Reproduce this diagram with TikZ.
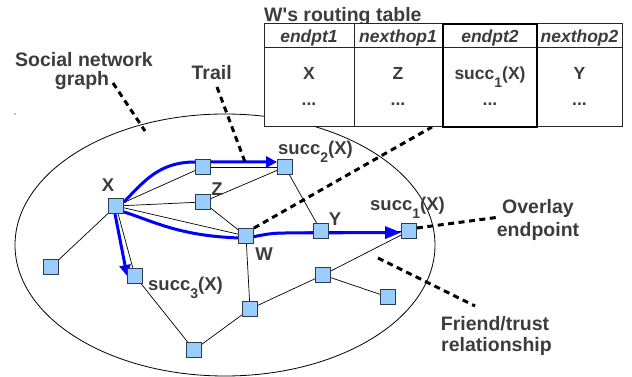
\documentclass[tikz,border=0pt]{standalone}
\usepackage{fontspec}
\setmainfont{Liberation Sans}
\usetikzlibrary{arrows.meta}
\pgfdeclarelayer{bg}
\pgfsetlayers{bg,main}
\definecolor{txt}{HTML}{3C3C3C}
\definecolor{nodefill}{HTML}{99CCFF}
\definecolor{nodeedge}{HTML}{2E3B4A}
\newcommand{\subidx}[1]{\raisebox{-8pt}{\fontsize{14}{14}\selectfont #1}}
\begin{document}
\begin{tikzpicture}[x=1pt,y=-1pt,
  vtx/.style={draw=nodeedge, fill=nodefill, minimum size=15pt, inner sep=0pt, line width=0.8pt},
  edge/.style={line width=0.7pt, black},
  trailpath/.style={line width=3pt, blue, -{Triangle[length=11pt,width=11pt]}},
  lbl/.style={text=txt, font=\fontsize{19.5}{19.5}\selectfont\bfseries, inner sep=0pt, anchor=base},
  vlbl/.style={text=txt, font=\fontsize{18.5}{18.5}\selectfont\bfseries, inner sep=0pt, anchor=base},
  hdr/.style={text=txt, font=\fontsize{17.5}{17.5}\selectfont\bfseries\itshape, inner sep=0pt, anchor=base},
  cell/.style={text=txt, font=\fontsize{17.5}{17.5}\selectfont\bfseries, inner sep=0pt, anchor=base},
  leader/.style={line width=3pt, dash pattern=on 6pt off 4.5pt, black},
  tblline/.style={draw=black!85, line width=1pt}
]
\useasboundingbox (0,0) rectangle (632,377);

% vertices
\node[vtx] (X) at (116,206) {};
\node[vtx] (A) at (203,167) {};
\node[vtx] (S2) at (285,167) {};
\node[vtx] (Z) at (203,202) {};
\node[vtx] (W) at (246,236) {};
\node[vtx] (Y) at (321,231) {};
\node[vtx] (S1) at (409,231) {};
\node[vtx] (L) at (51,267) {};
\node[vtx] (S3) at (135,276) {};
\node[vtx] (B) at (194,350) {};
\node[vtx] (M) at (250,309) {};
\node[vtx] (R) at (323,275) {};
\node[vtx] (F) at (388,297) {};

\begin{pgfonlayer}{bg}
  \draw[line width=0.8pt] (225,245) ellipse [x radius=210, y radius=131];
  \fill (15,114) circle [radius=0.6];
  % friend edges
  \draw[edge] (X) -- (A);
  \draw[edge] (X) -- (Z);
  \draw[edge] (X) -- (W);
  \draw[edge] (X) -- (L);
  \draw[edge] (X) -- (S3);
  \draw[edge] (A) -- (S2);
  \draw[edge] (Z) -- (S2);
  \draw[edge] (Z) -- (W);
  \draw[edge] (S2) -- (Y);
  \draw[edge] (W) -- (Y);
  \draw[edge] (Y) -- (S1);
  \draw[edge] (W) -- (M);
  \draw[edge] (M) -- (B);
  \draw[edge] (B) -- (S3);
  \draw[edge] (M) -- (R);
  \draw[edge] (R) -- (S1);
  \draw[edge] (R) -- (F);
  % trails
  \draw[trailpath] ([yshift=-4pt]X.north east) .. controls (145,180) and (160,162) .. (195,162) -- ([yshift=5pt]S2.west);
  \draw[trailpath] ([xshift=-1pt]X.south) -- (S3.west);
  \draw[trailpath, -{Triangle[length=16pt,width=12pt]}] ([yshift=2pt]X.south east) .. controls (155,222) and (180,236) .. (240,238) .. controls (256,238) and (262,233) .. (285,233) -- ([yshift=-1.5pt]S1.west);
\end{pgfonlayer}

% vertex labels
\node[vlbl] (lX) at (108,191) {X};
\node[vlbl] (lZ) at (217,195) {Z};
\node[vlbl] (lY) at (335,225) {Y};
\node[vlbl] (lW) at (264,260) {W};
\node[vlbl, anchor=base west] (lS2) at (278,155) {succ\subidx{2}(X)};
\node[vlbl, anchor=base west] (lS1) at (370,210) {succ\subidx{1}(X)};
\node[vlbl, anchor=base west] (lS3) at (148,290) {succ\subidx{3}(X)};

% annotation labels and leaders
\node[lbl] (soc1) at (84,66.7) {Social network};
\node[lbl] (soc2) at (82,86) {graph};
\node[lbl] (trail) at (211.7,80) {Trail};
\node[lbl] (ov1) at (538,213.3) {Overlay};
\node[lbl] (ov2) at (538,236) {endpoint};
\node[lbl] (fr1) at (495,330) {Friend/trust};
\node[lbl] (fr2) at (496.5,351) {relationship};

\coordinate (socA) at (113,83);
\coordinate (socB) at (145,131);
\coordinate (trA) at (217,87);
\coordinate (trB) at (245,162);
\coordinate (ovA) at (500,217);
\coordinate (frA) at (378,258);
\coordinate (frB) at (475,306);
\coordinate (tblpt) at (432,127);
\draw[leader] (socA) -- (socB);
\draw[leader] (trA) -- (trB);
\draw[leader] ([yshift=3pt]S1.east) -- (ovA);
\draw[leader] (frA) -- (frB);
\draw[leader] (W.north east) -- (tblpt);

% routing table
\node[lbl, anchor=base west] (title) at (264,22) {W\textquotesingle s routing table};
\fill[white] (264,24) rectangle (622,127);
\draw[tblline] (264,24) rectangle (622,127);
\draw[tblline] (264,48) -- (622,48);
\draw[tblline] (354,24) -- (354,127);
\draw[line width=1.3pt, black] (443,24) rectangle (537,127);

\node[hdr] (h1) at (309,42.5) {endpt1};
\node[hdr] (h2) at (398,42.5) {nexthop1};
\node[hdr] (h3) at (490,42.5) {endpt2};
\node[hdr] (h4) at (579.5,42.5) {nexthop2};
\node[cell] (c1) at (309,80) {X};
\node[cell] (c2) at (398,80) {Z};
\node[cell] (c3) at (490,80) {succ\subidx{1}(X)};
\node[cell] (c4) at (579.5,80) {Y};
\node[cell] (d1) at (309,106) {...};
\node[cell] (d2) at (398,106) {...};
\node[cell] (d3) at (490,106) {...};
\node[cell] (d4) at (579.5,106) {...};
\end{tikzpicture}
\end{document}
